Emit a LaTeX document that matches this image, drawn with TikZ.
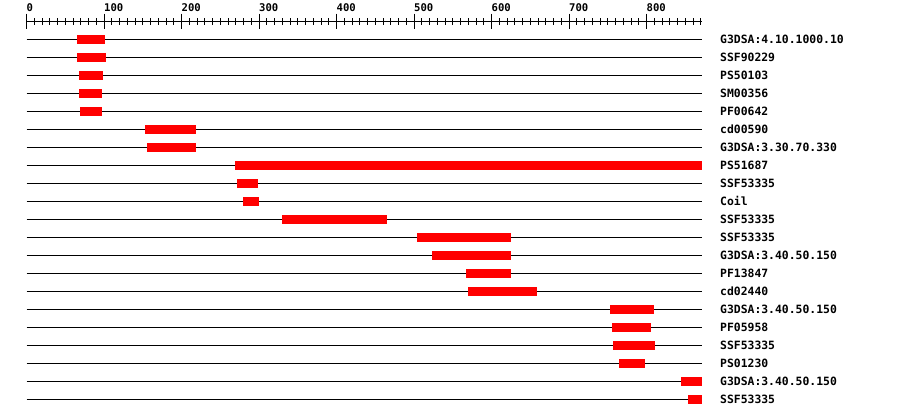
\documentclass[tikz,border=0pt]{standalone}
\usepackage{fontspec}
\newfontfamily\monobold{DejaVu Sans Mono Bold}
\tikzset{
  track/.style={line width=1pt, black},
  hit/.style={fill=red, draw=none},
  rowlabel/.style={anchor=base west, inner sep=0pt, font=\monobold\fontsize{11.4}{13}\selectfont},
  ticklabel/.style={anchor=base west, inner sep=0pt, font=\monobold\fontsize{10.6}{12}\selectfont},
  majortick/.style={line width=1pt},
  minortick/.style={line width=1pt}
}
\begin{document}
\begin{tikzpicture}[x=1pt,y=-1pt]
\useasboundingbox (0,0) rectangle (900,418);
\fill[white] (0,0) rectangle (900,418);
% axis
\def\xz{26.5}
\def\sc{0.775}
\coordinate (axL) at (\xz,21.7);
\coordinate (axR) at (702,21.7);
\draw[line width=1pt] (axL) -- (axR);
\foreach \i in {0,...,87}{
  \pgfmathsetmacro{\xx}{\xz+\sc*10*\i}
  \pgfmathtruncatemacro{\m}{mod(\i,10)}
  \ifnum\m=0
    \draw[majortick] (\xx,13.5) -- (\xx,28.5);
  \else
    \draw[minortick] (\xx,18.3) -- (\xx,25);
  \fi
}
\foreach \v in {0,100,...,800}{
  \pgfmathsetmacro{\xx}{\xz+\sc*\v}
  \node[ticklabel] (t\v) at (\xx,11.2) {\v};
}
% rows: y, start, end, label
\foreach [count=\k] \s/\e/\lab in {
  77/105/G3DSA:4.10.1000.10,
  77/106/SSF90229,
  79/103/PS50103,
  79/102/SM00356,
  80/102/PF00642,
  145/196/cd00590,
  147/196/G3DSA:3.30.70.330,
  235/702/PS51687,
  237/258/SSF53335,
  243/259/Coil,
  282/387/SSF53335,
  417/511/SSF53335,
  432/511/G3DSA:3.40.50.150,
  466/511/PF13847,
  468/537/cd02440,
  610/654/G3DSA:3.40.50.150,
  612/651/PF05958,
  613/655/SSF53335,
  619/645/PS01230,
  681/702/G3DSA:3.40.50.150,
  688/702/SSF53335}{
  \pgfmathsetmacro{\yy}{39.3+18*(\k-1)}
  \coordinate (l\k) at (26.5,\yy);
  \coordinate (r\k) at (702,\yy);
  \draw[track] (l\k) -- (r\k);
  \fill[hit] (\s,\yy-4.4) rectangle (\e,\yy+4.4);
  \node[rowlabel] (lab\k) at (720,\yy+4.2) {\lab};
}
\end{tikzpicture}
\end{document}
